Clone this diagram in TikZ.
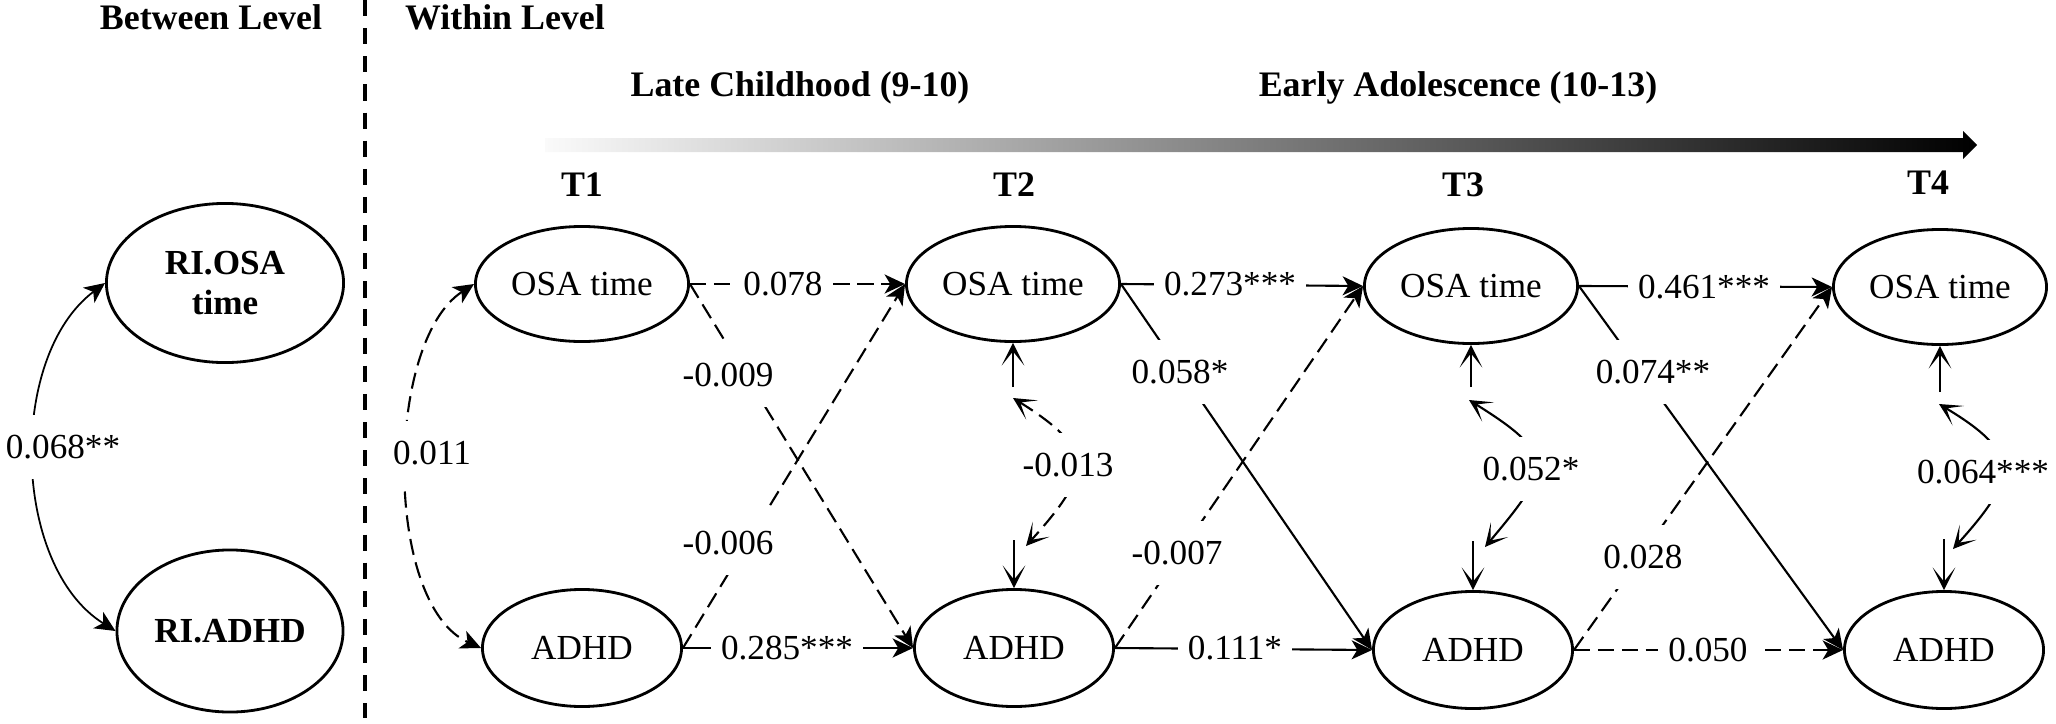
\documentclass[tikz,border=0pt]{standalone}
\usepackage{fontspec}
\setmainfont{Liberation Serif}
\usetikzlibrary{arrows.meta, shapes.geometric}
\begin{document}
\begin{tikzpicture}[x=0.01cm, y=0.01cm,
  every node/.style={font=\fontsize{10}{12}\selectfont},
  latent/.style={ellipse, draw, line width=0.8pt, inner sep=0pt},
  osa/.style={latent, minimum width=2.13cm, minimum height=1.15cm},
  adhd/.style={latent, minimum width=1.99cm, minimum height=1.17cm},
  ri/.style={latent, font=\fontsize{10}{11.5}\selectfont\bfseries, align=center},
  hdr/.style={font=\fontsize{10.2}{12}\selectfont\bfseries},
  lab/.style={fill=white, inner xsep=0.1cm, inner ysep=0.2cm},
  maintip/.tip={Stealth[length=5.8pt,width=5.4pt,inset=1.6pt]},
  opentip/.tip={Stealth[length=6.4pt,width=6.4pt,inset=4pt]},
  conn/.style={line width=0.6pt, -maintip},
  dsh/.style={dash pattern=on 4.6pt off 2.2pt},
  covar/.style={line width=0.6pt, opentip-opentip},
  fcovar/.style={line width=0.6pt, maintip-maintip},
  resid/.style={line width=0.6pt, -opentip}
]
\useasboundingbox (0,0) rectangle (2056,-724);

% headers
\node[hdr] (bl) at (211,-17) {Between Level};
\node[hdr] (wl) at (505,-17) {Within Level};
\node[hdr] (lc) at (800,-88) {Late Childhood (9-10)};
\node[hdr] (ea) at (1458,-88) {Early Adolescence (10-13)};
\draw[line width=1pt, dash pattern=on 4.6pt off 3.4pt] (365,0) -- (365,-718);

% time arrow
\shade[left color=black!2, right color=black]
  (545,-138) -- (1963,-138) -- (1963,-131) -- (1977,-145) -- (1963,-159) -- (1963,-152) -- (545,-152) -- cycle;

% time labels
\node[hdr] (t1) at (582,-185) {T1};
\node[hdr] (t2) at (1014,-185) {T2};
\node[hdr] (t3) at (1463,-185) {T3};
\node[hdr] (t4) at (1928,-183) {T4};

% between level
\node[ri, minimum width=2.37cm, minimum height=1.59cm] (riosa) at (225,-283) {RI.OSA\\time};
\node[ri, minimum width=2.26cm, minimum height=1.62cm] (riadhd) at (230,-631) {RI.ADHD};

% within level
\node[osa] (o1) at (582,-284) {OSA time};
\node[osa] (o2) at (1013,-284) {OSA time};
\node[osa] (o3) at (1471,-286) {OSA time};
\node[osa] (o4) at (1940,-287) {OSA time};
\node[adhd] (a1) at (582,-648) {ADHD};
\node[adhd] (a2) at (1014,-648) {ADHD};
\node[adhd] (a3) at (1473,-650) {ADHD};
\node[adhd] (a4) at (1944,-650) {ADHD};

% residual points
\coordinate (u2) at (1013,-387);  \coordinate (cu2) at (1013,-398);
\coordinate (d2) at (1014,-540);  \coordinate (cd2) at (1026,-546);
\coordinate (u3) at (1471,-387);  \coordinate (cu3) at (1469,-400);
\coordinate (d3) at (1473,-541);  \coordinate (cd3) at (1485,-547);
\coordinate (u4) at (1940,-392);  \coordinate (cu4) at (1939,-404);
\coordinate (d4) at (1944,-539);  \coordinate (cd4) at (1953,-549);

% connectors
\draw[line width=0.5pt, maintip-maintip]
  (riosa.west) to[out=-143, in=148, looseness=0.9] (riadhd.west);
\draw[fcovar, dsh] (o1.west) to[out=-147, in=156, looseness=0.75] (a1.west);

\draw[conn, dsh] (o1.east) -- (o2.west);
\draw[conn, dsh] (o1.east) -- (a2.west);
\draw[conn, dsh] (a1.east) -- (o2.west);
\draw[conn] (a1.east) -- (a2.west);

\draw[conn] (o2.east) -- (o3.west);
\draw[conn] (o2.east) -- (a3.west);
\draw[conn, dsh] (a2.east) -- (o3.west);
\draw[conn] (a2.east) -- (a3.west);

\draw[conn] (o3.east) -- (o4.west);
\draw[conn] (o3.east) -- (a4.west);
\draw[conn, dsh] (a3.east) -- (o4.west);
\draw[conn, dsh] (a3.east) -- (a4.west);

\draw[resid] (u2) -- (o2.south);
\draw[resid] (d2) -- (a2.north);
\draw[covar, dsh] (cu2) to[out=-32, in=48, looseness=1.7] (cd2);
\draw[resid] (u3) -- (o3.south);
\draw[resid] (d3) -- (a3.north);
\draw[covar] (cu3) to[out=-32, in=50, looseness=1.8] (cd3);
\draw[resid] (u4) -- (o4.south);
\draw[resid] (d4) -- (a4.north);
\draw[covar] (cu4) to[out=-31, in=48, looseness=1.7] (cd4);

% labels
\node[lab] (l0) at (63,-447) {0.068**};
\node[lab] (l1) at (432,-453) {0.011};
\node[lab] (l2) at (783,-284) {0.078};
\node[lab] (l3) at (728,-375) {-0.009};
\node[lab] (l4) at (728,-543) {-0.006};
\node[lab] (l5) at (787,-648) {0.285***};
\node[lab] (l6) at (1068,-465) {-0.013};
\node[lab] (l7) at (1230,-284) {0.273***};
\node[lab] (l8) at (1180,-372) {0.058*};
\node[lab] (l9) at (1177,-553) {-0.007};
\node[lab] (l10) at (1235,-648) {0.111*};
\node[lab] (l11) at (1531,-469) {0.052*};
\node[lab] (l12) at (1704,-287) {0.461***};
\node[lab] (l13) at (1653,-372) {0.074**};
\node[lab] (l14) at (1643,-557) {0.028};
\node[lab] (l15) at (1708,-650) {0.050};
\node[lab] (l16) at (1983,-472) {0.064***};
\end{tikzpicture}
\end{document}
